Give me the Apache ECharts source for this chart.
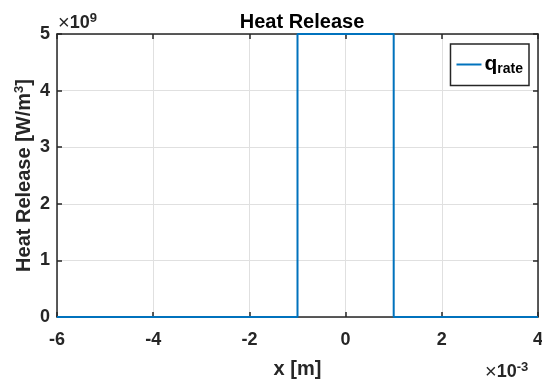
<!DOCTYPE html>
<html>
<head>
<meta charset="utf-8">
<script src="https://cdn.jsdelivr.net/npm/echarts@6/dist/echarts.min.js"></script>
<style>
  html, body { margin: 0; padding: 0; background: #fff; }
  #main { width: 542px; height: 381px; }
</style>
</head>
<body>
<div id="main"></div>
<script>
// x in units of 1e-3 m, y in units of 1e9 W/m^3
var xVals = [-6, -1, -1, 1, 1, 4];
var qRate = [0, 0, 5, 5, 0, 0];
var xTicks = [-6, -4, -2, 0, 2, 4];
var yTicks = [0, 1, 2, 3, 4, 5];

var FONT = 'Liberation Sans';
var axisCol = '#262626';

var chart = echarts.init(document.getElementById('main'));

var points = [];
for (var i = 0; i < xVals.length; i++) {
    points.push([xVals[i], qRate[i]]);
}

function boxAxis(pos, isX, main) {
    var a = {
        type: 'value',
        position: pos,
        min: isX ? xTicks[0] : yTicks[0],
        max: isX ? xTicks[xTicks.length - 1] : yTicks[yTicks.length - 1],
        interval: isX ? 2 : 1,
        axisLine: { show: true, onZero: false, lineStyle: { color: axisCol, width: 1.5 } },
        axisTick: { show: true, inside: true, length: 5, lineStyle: { color: axisCol, width: 1.5 } },
        axisLabel: {
            show: main,
            color: axisCol,
            fontFamily: FONT,
            fontWeight: 'bold',
            fontSize: 18,
            margin: isX ? 14 : 7
        },
        splitLine: { show: main, lineStyle: { color: '#e0e0e0', width: 1 } }
    };
    return a;
}

var xMain = boxAxis('bottom', true, true);
xMain.name = 'x [m]';
xMain.nameLocation = 'middle';
xMain.nameGap = 42;
xMain.nameMoveOverlap = false;
xMain.nameTextStyle = { color: axisCol, fontFamily: FONT, fontWeight: 'bold', fontSize: 20 };

var yMain = boxAxis('left', false, true);
yMain.name = '{b|Heat Release [W/m}{s|3}{b|]}';
yMain.nameLocation = 'middle';
yMain.nameGap = 22;
yMain.nameMoveOverlap = false;
yMain.nameTextStyle = {
    color: axisCol,
    rich: {
        b: { fontFamily: FONT, fontWeight: 'bold', fontSize: 20, color: axisCol },
        s: { fontFamily: FONT, fontWeight: 'bold', fontSize: 13, color: axisCol, verticalAlign: 'top', padding: [0, 0, 9, 0] }
    }
};

var option = {
    backgroundColor: '#fff',
    animation: false,
    title: {
        text: 'Heat Release',
        left: 297,
        top: 7,
        textAlign: 'center',
        textStyle: { fontFamily: FONT, fontWeight: 'bold', fontSize: 20, color: '#000' }
    },
    grid: { left: 57, right: 4, top: 34, bottom: 64, containLabel: false, outerBoundsMode: 'none' },
    xAxis: [xMain, boxAxis('top', true, false)],
    yAxis: [yMain, boxAxis('right', false, false)],
    legend: {
        right: 13,
        top: 44,
        orient: 'vertical',
        backgroundColor: '#fff',
        borderColor: axisCol,
        borderWidth: 1.5,
        borderRadius: 0,
        padding: [10, 6, 9, 6],
        itemWidth: 25,
        itemHeight: 2,
        itemGap: 4,
        icon: 'rect',
        data: [{ name: 'q_rate' }],
        formatter: function () { return '{q|q}{r|rate}'; },
        textStyle: {
            color: '#000',
            padding: [0, 0, 0, -2],
            rich: {
                q: { fontFamily: FONT, fontWeight: 'bold', fontSize: 21, color: '#000' },
                r: { fontFamily: FONT, fontWeight: 'bold', fontSize: 14, color: '#000', verticalAlign: 'bottom', padding: [10, 0, 0, 0] }
            }
        }
    },
    graphic: [
        {
            type: 'text', left: 58, top: 12,
            style: {
                text: '{a|×}{b|10}{c|9}',
                rich: {
                    a: { fontFamily: FONT, fontSize: 20, fill: axisCol },
                    b: { fontFamily: FONT, fontWeight: 'bold', fontSize: 18, fill: axisCol },
                    c: { fontFamily: FONT, fontWeight: 'bold', fontSize: 13, fill: axisCol, verticalAlign: 'top', padding: [0, 0, 10, 0] }
                }
            }
        },
        {
            type: 'text', left: 485, top: 361,
            style: {
                text: '{a|×}{b|10}{c|-3}',
                rich: {
                    a: { fontFamily: FONT, fontSize: 20, fill: axisCol },
                    b: { fontFamily: FONT, fontWeight: 'bold', fontSize: 18, fill: axisCol },
                    c: { fontFamily: FONT, fontWeight: 'bold', fontSize: 13, fill: axisCol, verticalAlign: 'top', padding: [0, 0, 10, 0] }
                }
            }
        }
    ],
    series: [{
        name: 'q_rate',
        type: 'line',
        data: points,
        showSymbol: false,
        symbol: 'none',
        color: '#0072BD',
        lineStyle: { color: '#0072BD', width: 2 },
        z: 3
    }]
};

chart.setOption(option);
</script>
</body>
</html>
